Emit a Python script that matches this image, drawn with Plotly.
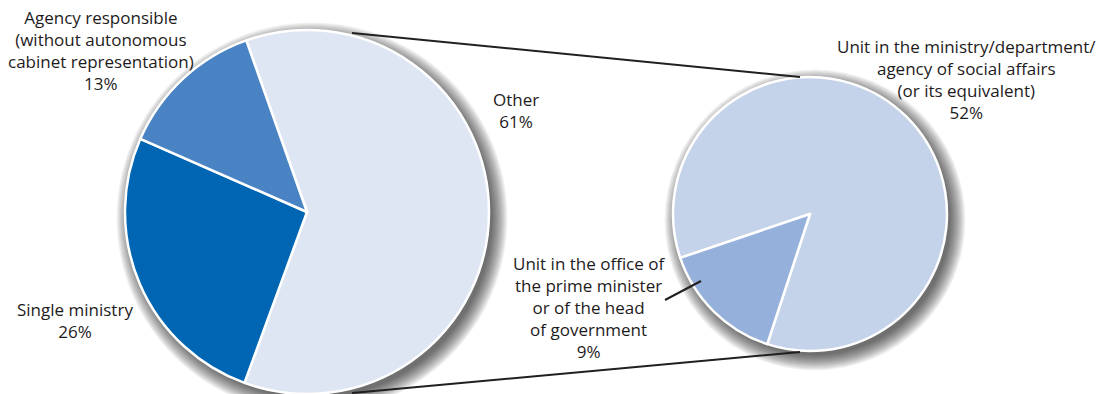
import plotly.graph_objects as go

# Main breakdown
main_labels = [
    "Other",
    "Single ministry",
    "Agency responsible<br>(without autonomous<br>cabinet representation)",
]
main_values = [61, 26, 13]
main_colors = ["#dfe6f3", "#0066b3", "#4a83c3"]

# Breakdown of "Other"
sub_labels = [
    "Unit in the ministry/department/<br>agency of social affairs<br>(or its equivalent)",
    "Unit in the office of<br>the prime minister<br>or of the head<br>of government",
]
sub_values = [52, 9]
sub_colors = ["#c5d3ea", "#95b0da"]

W, H = 1099, 394
FONT = "Open Sans"
TEXT_COLOR = "#1e1b1c"


def px(x):
    return x / W


def py(y):
    return 1 - y / H


# pie geometry in pixels (centre x, centre y, radius)
L_CX, L_CY, L_R = 307, 212, 182
R_CX, R_CY, R_R = 810, 214, 137

fig = go.Figure()

fig.add_trace(go.Pie(
    labels=main_labels,
    values=main_values,
    sort=False,
    direction="clockwise",
    rotation=-19.5,
    marker=dict(colors=main_colors, line=dict(color="white", width=2.5)),
    textinfo="none",
    hoverinfo="label+percent",
    showlegend=False,
    domain=dict(x=[px(L_CX - L_R), px(L_CX + L_R)],
                y=[py(L_CY + L_R), py(L_CY - L_R)]),
))

fig.add_trace(go.Pie(
    labels=sub_labels,
    values=sub_values,
    sort=False,
    direction="clockwise",
    rotation=251.3,
    marker=dict(colors=sub_colors, line=dict(color="white", width=2.5)),
    textinfo="none",
    hoverinfo="label+value",
    showlegend=False,
    domain=dict(x=[px(R_CX - R_R), px(R_CX + R_R)],
                y=[py(R_CY + R_R), py(R_CY - R_R)]),
))

shapes = []

# soft drop shadows beneath both pies
for cx, cy, r in [(L_CX, L_CY, L_R), (R_CX, R_CY, R_R)]:
    ox, oy = cx + 5, cy + 6
    for k in range(1, 16):
        rr = r - 3 + k * 1.1
        shapes.append(dict(
            type="circle", xref="paper", yref="paper", layer="below",
            x0=px(ox - rr), x1=px(ox + rr), y0=py(oy + rr), y1=py(oy - rr),
            fillcolor="rgba(0,0,0,0.05)", line=dict(width=0),
        ))

# connector lines between the two pies
line_style = dict(color="#231f20", width=2)
shapes.append(dict(type="line", xref="paper", yref="paper",
                   x0=px(352), y0=py(33), x1=px(800), y1=py(77), line=line_style))
shapes.append(dict(type="line", xref="paper", yref="paper",
                   x0=px(352), y0=py(393), x1=px(800), y1=py(352), line=line_style))
# leader line to the small slice
shapes.append(dict(type="line", xref="paper", yref="paper",
                   x0=px(665), y0=py(300), x1=px(701), y1=py(281), line=line_style))

# label positions (centre x, top y) in pixels
main_pos = [(516, 86), (75, 296), (101, 4)]
sub_pos = [(966, 33), (589, 250)]

annotations = []
for labs, vals, pos in [(main_labels, main_values, main_pos),
                        (sub_labels, sub_values, sub_pos)]:
    for lab, val, (x, y) in zip(labs, vals, pos):
        annotations.append(dict(
            text=f"{lab}<br>{val}%", xref="paper", yref="paper",
            x=px(x), y=py(y), xanchor="center", yanchor="top",
            showarrow=False, align="center",
            font=dict(family=FONT, size=17, color=TEXT_COLOR),
        ))

fig.update_layout(
    width=W, height=H,
    margin=dict(l=0, r=0, t=0, b=0),
    paper_bgcolor="white",
    plot_bgcolor="white",
    shapes=shapes,
    annotations=annotations,
)

fig.write_html("out.html")
